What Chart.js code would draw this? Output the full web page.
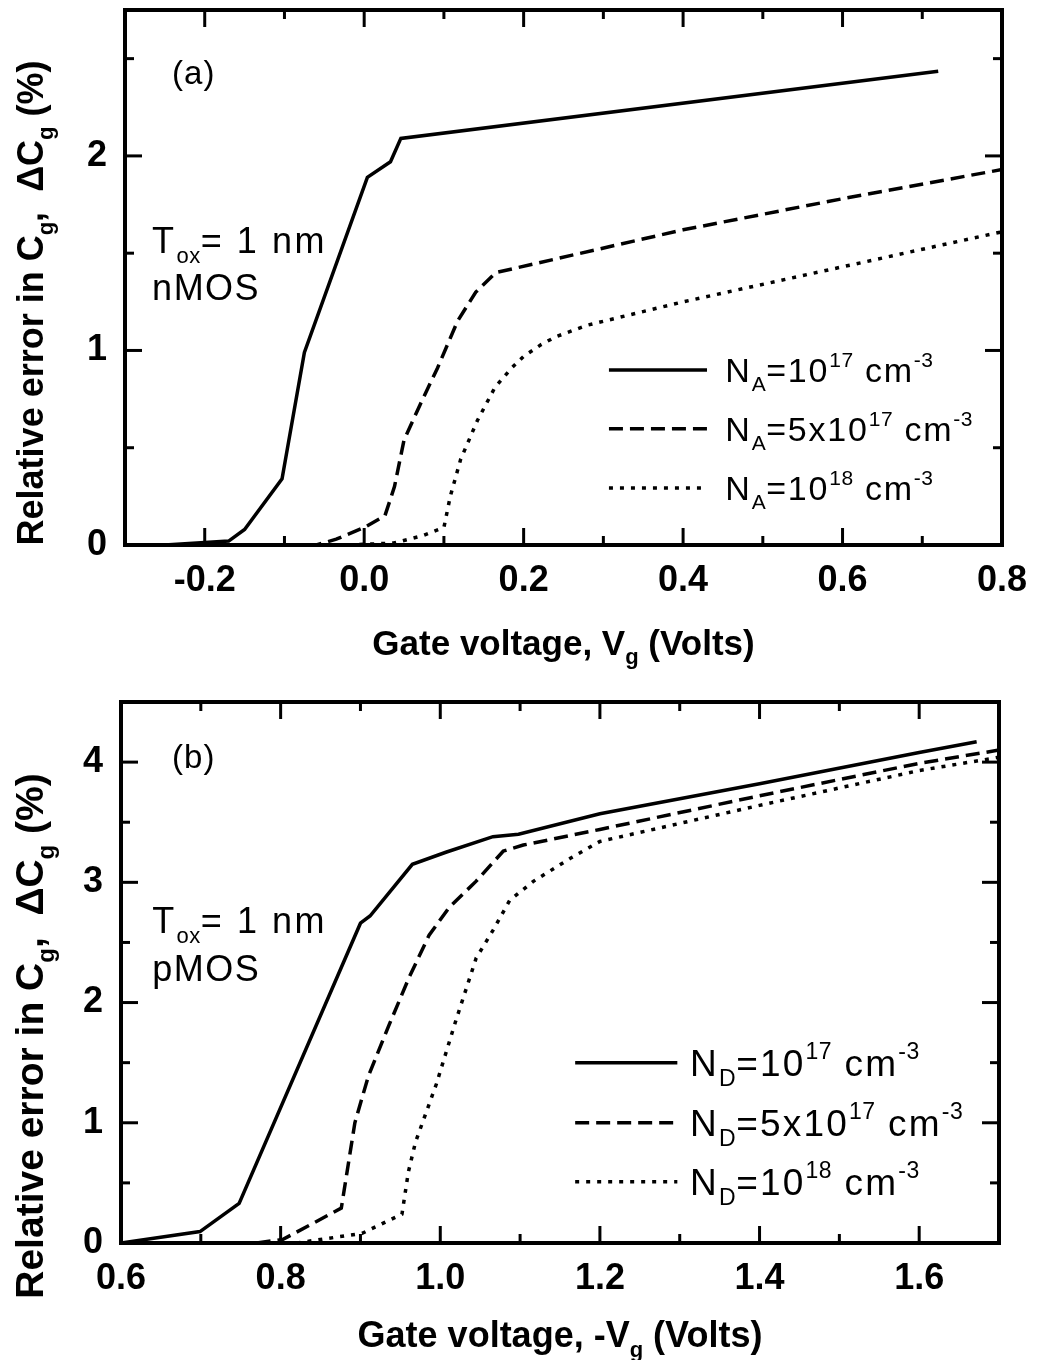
<!DOCTYPE html>
<html>
<head>
<meta charset="utf-8">
<script src="https://cdn.jsdelivr.net/npm/chart.js@4.4.0/dist/chart.umd.min.js"></script>
<style>
html,body{margin:0;padding:0;background:#fff;}
#wrap{position:relative;width:1038px;height:1360px;background:#fff;}
canvas{position:absolute;left:0;}
</style>
</head>
<body>
<div id="wrap">
<canvas id="ca" width="1038" height="670" style="top:0px"></canvas>
<canvas id="cb" width="1038" height="690" style="top:670px"></canvas>
</div>
<script>
// ---------------- DATA ----------------
// Panel (a): nMOS, gate voltage Vg (V) vs relative error dCg (%)
const vgA1 = [-0.25, -0.17, -0.15, -0.103, -0.075, 0.004, 0.033, 0.046, 0.72];
const dcA1 = [0.0, 0.02, 0.08, 0.34, 0.99, 1.89, 1.97, 2.09, 2.435];
const vgA2 = [-0.15, -0.06, -0.035, 0.0, 0.026, 0.038, 0.05, 0.07, 0.092, 0.117, 0.14, 0.165, 0.4, 0.6, 0.8];
const dcA2 = [0.0, 0.0, 0.03, 0.09, 0.15, 0.30, 0.54, 0.72, 0.91, 1.15, 1.30, 1.40, 1.62, 1.78, 1.93];
const vgA3 = [-0.02, 0.037, 0.075, 0.10, 0.108, 0.121, 0.142, 0.164, 0.185, 0.20, 0.222, 0.24, 0.28, 0.4, 0.6, 0.8];
const dcA3 = [0.0, 0.01, 0.05, 0.09, 0.25, 0.44, 0.64, 0.81, 0.91, 0.97, 1.03, 1.07, 1.13, 1.25, 1.43, 1.61];

// Panel (b): pMOS, gate voltage -Vg (V) vs relative error dCg (%)
const vgB1 = [0.6, 0.699, 0.748, 0.9, 0.912, 0.965, 1.007, 1.066, 1.098, 1.2, 1.4, 1.6, 1.672];
const dcB1 = [0.0, 0.095, 0.33, 2.66, 2.72, 3.15, 3.25, 3.38, 3.40, 3.57, 3.82, 4.08, 4.17];
const vgB2 = [0.77, 0.803, 0.876, 0.893, 0.91, 0.935, 0.961, 0.986, 1.011, 1.045, 1.079, 1.104, 1.2, 1.4, 1.6, 1.7];
const dcB2 = [0.0, 0.03, 0.29, 1.0, 1.39, 1.80, 2.21, 2.56, 2.79, 3.01, 3.26, 3.31, 3.44, 3.72, 3.99, 4.10];
const vgB3 = [0.82, 0.902, 0.952, 0.96, 0.969, 0.995, 1.02, 1.045, 1.066, 1.087, 1.117, 1.163, 1.2, 1.4, 1.6, 1.7];
const dcB3 = [0.0, 0.08, 0.24, 0.59, 0.84, 1.32, 1.86, 2.37, 2.60, 2.85, 3.01, 3.2, 3.34, 3.64, 3.93, 4.04];

// Axis ranges and tick labels
const xRangeA = [-0.3, 0.8];
const yRangeA = [0, 2.75];
const xTicksA = [-0.2, 0.0, 0.2, 0.4, 0.6, 0.8];
const xMinorA = [-0.1, 0.1, 0.3, 0.5, 0.7];
const yTicksA = [0, 1, 2];
const yMinorA = [0.5, 1.5, 2.5];

const xRangeB = [0.6, 1.7];
const yRangeB = [0, 4.5];
const xTicksB = [0.6, 0.8, 1.0, 1.2, 1.4, 1.6];
const xMinorB = [0.7, 0.9, 1.1, 1.3, 1.5];
const yTicksB = [0, 1, 2, 3, 4];
const yMinorB = [0.5, 1.5, 2.5, 3.5];

// Series labels
const legendA = ['NA=1e17 cm-3', 'NA=5e17 cm-3', 'NA=1e18 cm-3'];
const legendB = ['ND=1e17 cm-3', 'ND=5e17 cm-3', 'ND=1e18 cm-3'];

// ---------------- STYLE / HELPERS ----------------
const FONT = "'Liberation Sans', Arial, Helvetica, sans-serif";
const DASHES = [[], [14, 7], [4, 7]];

function pts(xs, ys) { return xs.map((v, i) => ({ x: v, y: ys[i] })); }

function drawRich(ctx, segs, x, y, o) {
  const size = o.size, weight = o.weight || 'normal', ls = o.ls || 0;
  let w = 0;
  const parts = segs.map(([t, m]) => {
    const s = m ? Math.round(size * 0.62) : size;
    const l = m ? Math.min(ls, 0.5) : ls;
    ctx.font = `${weight} ${s}px ${FONT}`;
    ctx.letterSpacing = l + 'px';
    const tw = ctx.measureText(t).width;
    const dy = m === 1 ? size * 0.27 : (m === 2 ? -size * 0.45 : 0);
    w += tw;
    return { t, s, tw, dy, l };
  });
  let cx = o.align === 'center' ? x - w / 2 : (o.align === 'right' ? x - w : x);
  ctx.textAlign = 'left';
  ctx.textBaseline = 'alphabetic';
  ctx.fillStyle = '#000';
  for (const p of parts) {
    ctx.font = `${weight} ${p.s}px ${FONT}`;
    ctx.letterSpacing = p.l + 'px';
    ctx.fillText(p.t, cx, y + p.dy);
    cx += p.tw;
  }
  ctx.letterSpacing = '0px';
}

function decoPlugin(cfg) {
  return {
    id: 'deco',
    afterDraw(chart) {
      const { ctx, chartArea: a, scales: { x, y } } = chart;
      ctx.save();
      ctx.strokeStyle = '#000';
      ctx.lineCap = 'butt';
      ctx.setLineDash([]);
      ctx.lineWidth = 3;
      const seg = (x1, y1, x2, y2) => { ctx.beginPath(); ctx.moveTo(x1, y1); ctx.lineTo(x2, y2); ctx.stroke(); };
      const MAJ = 17, MIN = 9;
      const xt = (v, L) => { const p = x.getPixelForValue(v); seg(p, a.bottom, p, a.bottom - L); seg(p, a.top, p, a.top + L); };
      const yt = (v, L) => { const p = y.getPixelForValue(v); seg(a.left, p, a.left + L, p); seg(a.right, p, a.right - L, p); };
      cfg.xTicks.forEach(v => xt(v, MAJ));
      cfg.xMinor.forEach(v => xt(v, MIN));
      cfg.yTicks.forEach(v => yt(v, MAJ));
      cfg.yMinor.forEach(v => yt(v, MIN));
      // frame
      ctx.lineWidth = 4;
      ctx.strokeRect(a.left, a.top, a.right - a.left, a.bottom - a.top);

      // legend
      cfg.legend.forEach((row, i) => {
        const py = y.getPixelForValue(row.y);
        ctx.lineWidth = 3.5;
        ctx.setLineDash(DASHES[i]);
        seg(x.getPixelForValue(cfg.legX[0]), py, x.getPixelForValue(cfg.legX[1]), py);
        ctx.setLineDash([]);
        drawRich(ctx, row.segs, x.getPixelForValue(cfg.legX[2]), py + cfg.legSize * 0.36, { size: cfg.legSize, ls: cfg.legLs });
      });

      // annotations
      cfg.notes.forEach(n => {
        drawRich(ctx, n.segs, x.getPixelForValue(n.x), y.getPixelForValue(n.y), { size: n.size || 35, ls: n.ls || 2 });
      });

      // x title
      drawRich(ctx, cfg.xTitle, (a.left + a.right) / 2, a.bottom + cfg.xTitleOff, { size: cfg.xTitleSize, weight: 'bold', align: 'center' });
      // y title
      ctx.save();
      ctx.translate(cfg.yTitleX, cfg.yTitleY);
      ctx.rotate(-Math.PI / 2);
      drawRich(ctx, cfg.yTitle, 0, 0, { size: cfg.yTitleSize, weight: 'bold', align: 'center' });
      ctx.restore();
      ctx.restore();
    }
  };
}

function makeChart(id, d) {
  const ds = d.series.map((s, i) => ({
    label: d.labels[i],
    data: pts(s[0], s[1]),
    borderColor: '#000',
    borderWidth: 3.5,
    borderDash: DASHES[i],
    borderCapStyle: 'butt',
    pointRadius: 0,
    fill: false,
    tension: 0
  }));
  return new Chart(document.getElementById(id), {
    type: 'line',
    data: { datasets: ds },
    options: {
      responsive: false,
      animation: false,
      devicePixelRatio: 1,
      layout: { padding: d.pad },
      plugins: { legend: { display: false }, tooltip: { enabled: false } },
      scales: {
        x: {
          type: 'linear', min: d.xr[0], max: d.xr[1],
          grid: { display: false, drawTicks: false }, border: { display: false },
          ticks: { color: '#000', font: { family: FONT, size: 36, weight: 'bold' }, padding: 14, maxRotation: 0, autoSkip: false,
                   callback: v => Number(v).toFixed(1) },
          afterBuildTicks: s => { s.ticks = d.xTicks.map(v => ({ value: v })); },
          afterFit: s => { s.height = d.xH; s.paddingLeft = 0; s.paddingRight = 0; }
        },
        y: {
          type: 'linear', min: d.yr[0], max: d.yr[1],
          grid: { display: false, drawTicks: false }, border: { display: false },
          ticks: { color: '#000', font: { family: FONT, size: 36, weight: 'bold' }, padding: 18, autoSkip: false,
                   callback: v => String(v) },
          afterBuildTicks: s => { s.ticks = d.yTicks.map(v => ({ value: v })); },
          afterFit: s => { s.width = d.yW; s.paddingTop = 0; s.paddingBottom = 0; }
        }
      }
    },
    plugins: [decoPlugin(d)]
  });
}

const ySegs = [['Relative error in C', 0], ['g', 1], [',  \u0394C', 0], ['g', 1], [' (%)', 0]];

makeChart('ca', {
  series: [[vgA1, dcA1], [vgA2, dcA2], [vgA3, dcA3]],
  labels: legendA,
  xr: xRangeA, yr: yRangeA,
  xTicks: xTicksA, xMinor: xMinorA, yTicks: yTicksA, yMinor: yMinorA,
  pad: { left: 0, top: 10, right: 36, bottom: 0 },
  xH: 125, yW: 125,
  legX: [0.307, 0.430, 0.453], legSize: 34, legLs: 1.8,
  legend: [
    { y: 0.90, segs: [['N', 0], ['A', 1], ['=10', 0], ['17', 2], [' cm', 0], ['-3', 2]] },
    { y: 0.597, segs: [['N', 0], ['A', 1], ['=5x10', 0], ['17', 2], [' cm', 0], ['-3', 2]] },
    { y: 0.293, segs: [['N', 0], ['A', 1], ['=10', 0], ['18', 2], [' cm', 0], ['-3', 2]] }
  ],
  notes: [
    { x: -0.241, y: 2.37, segs: [['(a)', 0]], size: 33, ls: 1 },
    { x: -0.266, y: 1.50, segs: [['T', 0], ['ox', 1], ['= 1 nm', 0]], size: 36, ls: 2.5 },
    { x: -0.266, y: 1.26, segs: [['nMOS', 0]], size: 36, ls: 1.5 }
  ],
  xTitle: [['Gate voltage, V', 0], ['g', 1], [' (Volts)', 0]],
  xTitleOff: 110, xTitleSize: 35,
  yTitle: ySegs, yTitleX: 43, yTitleY: 303, yTitleSize: 36
});

makeChart('cb', {
  series: [[vgB1, dcB1], [vgB2, dcB2], [vgB3, dcB3]],
  labels: legendB,
  xr: xRangeB, yr: yRangeB,
  xTicks: xTicksB, xMinor: xMinorB, yTicks: yTicksB, yMinor: yMinorB,
  pad: { left: 0, top: 32, right: 39, bottom: 0 },
  xH: 117, yW: 121,
  legX: [1.169, 1.297, 1.313], legSize: 37, legLs: 2.2,
  legend: [
    { y: 1.50, segs: [['N', 0], ['D', 1], ['=10', 0], ['17', 2], [' cm', 0], ['-3', 2]] },
    { y: 1.00, segs: [['N', 0], ['D', 1], ['=5x10', 0], ['17', 2], [' cm', 0], ['-3', 2]] },
    { y: 0.51, segs: [['N', 0], ['D', 1], ['=10', 0], ['18', 2], [' cm', 0], ['-3', 2]] }
  ],
  notes: [
    { x: 0.664, y: 3.95, segs: [['(b)', 0]], size: 33, ls: 1 },
    { x: 0.639, y: 2.58, segs: [['T', 0], ['ox', 1], ['= 1 nm', 0]], size: 36, ls: 2.5 },
    { x: 0.639, y: 2.18, segs: [['pMOS', 0]], size: 36, ls: 1.5 }
  ],
  xTitle: [['Gate voltage, -V', 0], ['g', 1], [' (Volts)', 0]],
  xTitleOff: 104, xTitleSize: 36,
  yTitle: ySegs, yTitleX: 43, yTitleY: 366, yTitleSize: 39
});
</script>
</body>
</html>
